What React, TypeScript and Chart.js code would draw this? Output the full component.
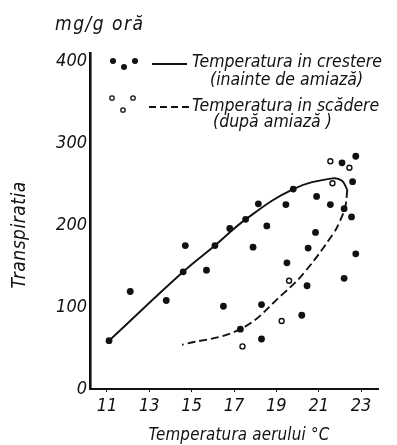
import React, { useEffect, useRef } from "react";
import { Chart, registerables } from "chart.js";

Chart.register(...registerables);

// Filled points: rising temperature (before noon)
const risingTemp = [11.1, 12.1, 13.8, 14.6, 14.7, 15.7, 16.1, 16.5, 16.8, 17.55, 17.9, 18.15, 18.3, 18.3, 18.55, 19.45, 19.5, 19.8, 20.2, 20.45, 20.5, 20.85, 20.9, 21.55, 22.1, 22.2, 22.2, 22.55, 22.6, 22.75, 22.75, 17.3];
const risingTransp = [59, 119, 108, 143, 175, 145, 175, 101, 196, 207, 173, 226, 103, 61, 199, 225, 154, 244, 90, 126, 172, 191, 235, 225, 276, 135, 220, 210, 253, 284, 165, 73];

// Open points: falling temperature (afternoon)
const fallingTemp = [21.55, 22.45, 21.65, 19.6, 19.25, 17.4];
const fallingTransp = [278, 270, 251, 132, 83, 52];

// Solid curve (rising)
const risingCurveTemp = [11.1, 14.6, 16.1, 17.55, 19.8, 21.65, 22.1, 22.35];
const risingCurveTransp = [59, 143, 175, 207, 244, 257, 254, 243];

// Dashed curve (falling)
const fallingCurveTemp = [22.35, 22.25, 21.95, 21.7, 20.35, 19.35, 17.3, 14.55];
const fallingCurveTransp = [243, 222, 202, 190, 143, 117, 73, 54];

const xTicks = [11, 13, 15, 17, 19, 21, 23];
const yTicks = [0, 100, 200, 300, 400];

const legendRising = ["Temperatura in crestere", "(inainte de amiază)"];
const legendFalling = ["Temperatura in scădere", "(după amiază )"];
const yUnit = "mg/g oră";
const yTitle = "Transpiratia";
const xTitle = "Temperatura aerului °C";

const FONT = '"DejaVu Sans Condensed", "DejaVu Sans", sans-serif';
const INK = "#111";

const pts = (xs: number[], ys: number[]) => xs.map((x, i) => ({ x, y: ys[i] }));

const decorPlugin = {
  id: "decor",
  afterDraw(chart: any) {
    const ctx = chart.ctx as any;
    ctx.save();
    ctx.fillStyle = INK;
    ctx.strokeStyle = INK;
    // unit
    ctx.font = `italic 19px ${FONT}`;
    ctx.textBaseline = "middle";
    ctx.textAlign = "left";
    ctx.letterSpacing = "1.5px";
    ctx.fillText(yUnit, 55, 25);
    ctx.letterSpacing = "0px";
    // y title
    ctx.save();
    ctx.translate(20, 235);
    ctx.rotate(-Math.PI / 2);
    ctx.textAlign = "center";
    ctx.font = `italic 19px ${FONT}`;
    ctx.letterSpacing = "0.5px";
    ctx.fillText(yTitle, 0, 0);
    ctx.restore();
    // x title
    ctx.textAlign = "center";
    ctx.font = `italic 16.8px ${FONT}`;
    ctx.letterSpacing = "0.2px";
    ctx.fillText(xTitle, 239, 436);
    ctx.letterSpacing = "0px";

    // legend markers
    const dot = (x: number, y: number, filled: boolean) => {
      ctx.beginPath();
      ctx.arc(x, y, filled ? 3 : 2.2, 0, Math.PI * 2);
      if (filled) ctx.fill();
      else {
        ctx.lineWidth = 1.3;
        ctx.stroke();
      }
    };
    dot(113, 61, true);
    dot(124, 67, true);
    dot(135, 61, true);
    dot(112, 98, false);
    dot(123, 110, false);
    dot(133, 98, false);
    ctx.lineWidth = 1.8;
    ctx.beginPath();
    ctx.moveTo(152, 64);
    ctx.lineTo(187, 64);
    ctx.stroke();
    ctx.setLineDash([7, 4]);
    ctx.beginPath();
    ctx.moveTo(149, 107);
    ctx.lineTo(190, 107);
    ctx.stroke();
    ctx.setLineDash([]);

    ctx.textAlign = "left";
    ctx.font = `italic 17.5px ${FONT}`;
    ctx.fillText(legendRising[0], 192, 62);
    ctx.fillText(legendRising[1], 210, 80);
    ctx.fillText(legendFalling[0], 192, 106);
    ctx.fillText(legendFalling[1], 213, 122);
    ctx.restore();
  },
};

export default function App() {
  const ref = useRef<HTMLCanvasElement | null>(null);
  useEffect(() => {
    if (!ref.current) return;
    const chart = new Chart(ref.current, {
      type: "scatter",
      data: {
        datasets: [
          {
            label: "curve rising",
            data: pts(risingCurveTemp, risingCurveTransp),
            showLine: true,
            tension: 0.4,
            borderColor: INK,
            borderWidth: 1.9,
            pointRadius: 0,
            clip: false as any,
          },
          {
            label: "curve falling",
            data: pts(fallingCurveTemp, fallingCurveTransp),
            showLine: true,
            tension: 0.4,
            borderColor: INK,
            borderWidth: 1.9,
            borderDash: [8, 4],
            pointRadius: 0,
            clip: false as any,
          },
          {
            label: "rising",
            data: pts(risingTemp, risingTransp),
            pointRadius: 3.4,
            backgroundColor: INK,
            borderColor: INK,
            borderWidth: 0,
            clip: false as any,
          },
          {
            label: "falling",
            data: pts(fallingTemp, fallingTransp),
            pointRadius: 2.5,
            backgroundColor: "#fff",
            borderColor: INK,
            borderWidth: 1.4,
            clip: false as any,
          },
        ],
      },
      options: {
        animation: false,
        responsive: false,
        layout: { padding: { left: 50, top: 53, right: 19, bottom: 16 } },
        plugins: { legend: { display: false }, tooltip: { enabled: false } },
        scales: {
          x: {
            type: "linear",
            min: 10.2,
            max: 23.8,
            afterFit: (s: any) => {
              s.height = 40;
            },
            afterBuildTicks: (s: any) => {
              s.ticks = xTicks.map((v) => ({ value: v }));
            },
            border: { display: true, color: INK, width: 2 },
            grid: { display: true, drawOnChartArea: false, drawTicks: true, tickLength: 3, color: INK },
            ticks: {
              color: INK,
              padding: 4,
              maxRotation: 0,
              autoSkip: false,
              font: { family: FONT, size: 18, style: "italic" },
            },
          },
          y: {
            type: "linear",
            min: 0,
            max: 410,
            afterFit: (s: any) => {
              s.width = 40;
            },
            afterBuildTicks: (s: any) => {
              s.ticks = yTicks.map((v) => ({ value: v }));
            },
            border: { display: true, color: INK, width: 2.6 },
            grid: { display: true, drawOnChartArea: false, drawTicks: false, color: INK },
            ticks: {
              color: INK,
              padding: 3,
              font: { family: FONT, size: 18, style: "italic" },
            },
          },
        },
      },
      plugins: [decorPlugin],
    });
    return () => chart.destroy();
  }, []);
  return (
    <div style={{ position: "fixed", left: 0, top: 0, width: 397, height: 445, background: "#fff" }}>
      <canvas ref={ref} width={397} height={445} style={{ display: "block" }} />
    </div>
  );
}
